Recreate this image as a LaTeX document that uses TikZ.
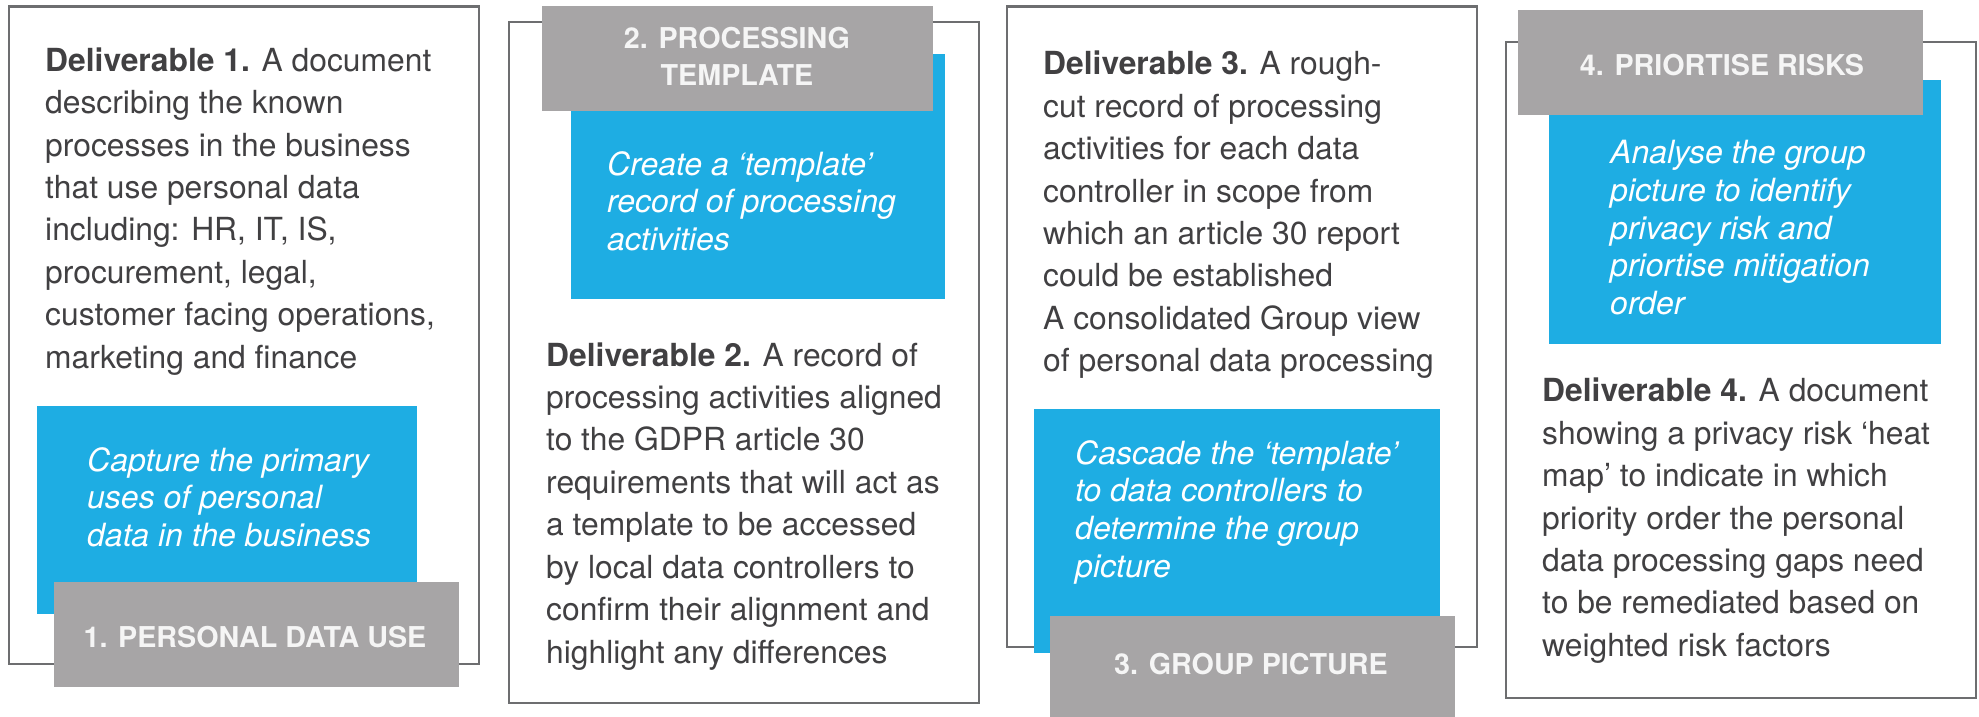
\documentclass[tikz,border=0pt]{standalone}
\usepackage{fontspec}
\setmainfont{TeX Gyre Heros}
\definecolor{stepblue}{HTML}{1EADE3}
\definecolor{labelgray}{HTML}{A7A5A6}
\definecolor{framegray}{HTML}{6D6E70}
\definecolor{bodytext}{HTML}{414042}
\definecolor{tagtext}{HTML}{F5F5F5}
\tikzset{
  frame/.style={draw=framegray, line width=2.7pt, inner sep=0pt, outer sep=0pt, anchor=north west},
  bluebox/.style={fill=stepblue, inner sep=0pt, outer sep=0pt, anchor=north west},
  graybox/.style={fill=labelgray, inner sep=0pt, outer sep=0pt, anchor=north west},
  body/.style={text=bodytext, font=\fontsize{31.8}{42.45}\selectfont, align=left, anchor=north west, inner sep=0pt},
  note/.style={text=white, font=\itshape\fontsize{32}{37.7}\selectfont, align=left, anchor=north west, inner sep=0pt},
  tag/.style={text=tagtext, font=\bfseries\fontsize{28.7}{37.5}\selectfont, align=center, inner sep=0pt}
}
\begin{document}
\begin{tikzpicture}[x=1pt,y=-1pt]
\useasboundingbox (0,0) rectangle (1979,717);

% ---- 1. Personal data use ----
\node[frame, minimum width=470pt, minimum height=657.5pt] (f1) at (9,6.5) {};
\node[body] (d1) at (45,41.2) {\strut\textbf{Deliverable 1.} A document\\
describing the known\\processes in the business\\that use personal data\\
including: HR, IT, IS,\\procurement, legal,\\customer facing operations,\\marketing and finance};
\node[bluebox, minimum width=380pt, minimum height=207.6pt] (b1) at (37,406) {};
\node[note] (n1) at (87,444.6) {\strut Capture the primary\\uses of personal\\data in the business};
\node[graybox, minimum width=405pt, minimum height=105pt] (g1) at (54,582) {};
\node[tag, anchor=base] (t1) at (255,647) {1. PERSONAL DATA USE};

% ---- 2. Processing template ----
\node[frame, minimum width=470pt, minimum height=681pt] (f2) at (509,22) {};
\node[bluebox, minimum width=374pt, minimum height=244.6pt] (b2) at (571,54) {};
\node[graybox, minimum width=391pt, minimum height=105pt] (g2) at (542,6) {};
\node[tag, anchor=north] (t2) at (737,21.75) {\strut 2. PROCESSING\\TEMPLATE};
\node[note] (n2) at (607,148.6) {\strut Create a ‘template’\\record of processing\\activities};
\node[body] (d2) at (546,336.1) {\strut\textbf{Deliverable 2.} A record of\\
processing activities aligned\\to the GDPR article 30\\requirements that will act as\\
a template to be accessed\\by local data controllers to\\confirm their alignment and\\highlight any differences};

% ---- 3. Group picture ----
\node[frame, minimum width=470pt, minimum height=640.6pt] (f3) at (1007,6.4) {};
\node[body] (d3) at (1043,44.8) {\strut\textbf{Deliverable 3.} A rough-\\
cut record of processing\\activities for each data\\controller in scope from\\
which an article 30 report\\could be established\\A consolidated Group view\\of personal data processing};
\node[bluebox, minimum width=406pt, minimum height=244pt] (b3) at (1034,409) {};
\node[note] (n3) at (1075,437.6) {\strut Cascade the ‘template’\\to data controllers to\\determine the group\\picture};
\node[graybox, minimum width=405pt, minimum height=104pt] (g3) at (1050,616) {};
\node[tag, anchor=base] (t3) at (1251,674.4) {3. GROUP PICTURE};

% ---- 4. Prioritise risks ----
\node[frame, minimum width=470pt, minimum height=656pt] (f4) at (1506,42) {};
\node[bluebox, minimum width=392pt, minimum height=264pt] (b4) at (1549,80) {};
\node[graybox, minimum width=405pt, minimum height=105pt] (g4) at (1518,10) {};
\node[tag, anchor=base] (t4) at (1722,75.4) {4. PRIORTISE RISKS};
\node[note] (n4) at (1610,137.3) {\strut Analyse the group\\picture to identify\\privacy risk and\\priortise mitigation\\order};
\node[body] (d4) at (1542,371.8) {\strut\textbf{Deliverable 4.} A document\\
showing a privacy risk ‘heat\\map’ to indicate in which\\priority order the personal\\
data processing gaps need\\to be remediated based on\\weighted risk factors};
\end{tikzpicture}
\end{document}
